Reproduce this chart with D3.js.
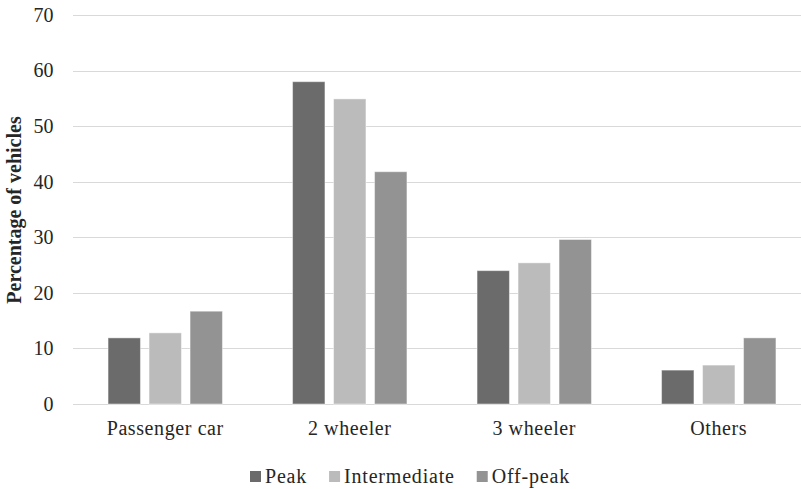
<!DOCTYPE html>
<html>
<head>
<meta charset="utf-8">
<script src="https://cdn.jsdelivr.net/npm/d3@7"></script>
<style>
  html, body { margin: 0; padding: 0; background: #fff; }
  svg { display: block; }
</style>
</head>
<body>
<svg id="chart" width="801" height="489" style="font-family: Liberation Serif"></svg>
<script>
const categories = ["Passenger car", "2 wheeler", "3 wheeler", "Others"];
const seriesNames = ["Peak", "Intermediate", "Off-peak"];
const peak = [11.9, 58.0, 24.0, 6.1];
const intermediate = [12.8, 54.9, 25.4, 7.0];
const offPeak = [16.7, 41.8, 29.6, 11.9];
const yTicks = [0, 10, 20, 30, 40, 50, 60, 70];
const colors = ["#6b6b6b", "#bbbbbb", "#939393"];

const FONT = "Liberation Serif";
const TEXT_COLOR = "#262626";

const seriesValues = [peak, intermediate, offPeak];
const data = categories.map((c, i) => ({
  category: c,
  values: seriesNames.map((s, j) => ({ series: s, value: seriesValues[j][i], color: colors[j] }))
}));

const svg = d3.select("#chart");
const plotLeft = 73, plotRight = 811, plotTop = 15, plotBottom = 404;

const y = d3.scaleLinear().domain([0, 70]).range([plotBottom, plotTop]);
const x0 = d3.scaleBand().domain(categories).range([plotLeft, plotRight]).paddingInner(0.38).paddingOuter(0.19);
const x1 = d3.scaleBand().domain(seriesNames).range([0, x0.bandwidth()]).paddingInner(0.21).paddingOuter(0);

// gridlines
svg.append("g")
  .selectAll("line").data(yTicks).join("line")
  .attr("x1", plotLeft).attr("x2", plotRight)
  .attr("y1", d => Math.round(y(d)) + 0.5).attr("y2", d => Math.round(y(d)) + 0.5)
  .attr("stroke", "#d9d9d9").attr("stroke-width", 1);

// y axis labels
const yAxis = d3.axisLeft(y).tickValues(yTicks).tickSize(0).tickPadding(0);
const gy = svg.append("g").attr("transform", `translate(53.5,0)`).call(yAxis);
gy.attr("font-family", FONT).attr("font-size", 20);
gy.select(".domain").remove();
gy.selectAll("text")
  .attr("font-family", FONT).style("font-family", FONT).style("font-size", "20px").style("fill", TEXT_COLOR);

// bars
const groups = svg.append("g").selectAll("g").data(data).join("g")
  .attr("transform", d => `translate(${x0(d.category)},0)`);
groups.selectAll("rect").data(d => d.values).join("rect")
  .attr("x", d => x1(d.series))
  .attr("width", x1.bandwidth())
  .attr("y", d => y(d.value))
  .attr("height", d => y(0) - y(d.value))
  .attr("fill", d => d.color)
  .attr("stroke", "rgba(255,255,255,0.45)")
  .attr("stroke-width", 1);

// x axis labels
const xAxis = d3.axisBottom(x0).tickSize(0).tickPadding(0);
const gx = svg.append("g").attr("transform", `translate(0,435)`).call(xAxis);
gx.attr("font-family", FONT).attr("font-size", 20);
gx.select(".domain").remove();
gx.selectAll("text")
  .attr("y", 0).attr("dy", 0)
  .attr("font-family", FONT).style("font-family", FONT).style("font-size", "20px").style("letter-spacing", "0.6px")
  .style("fill", TEXT_COLOR);

// y title
svg.append("text")
  .attr("transform", "translate(21,210) rotate(-90)")
  .attr("text-anchor", "middle")
  .attr("font-family", FONT).style("font-family", FONT).style("font-size", "20px").style("font-weight", "bold")
  .style("fill", TEXT_COLOR)
  .text("Percentage of vehicles");

// legend
const legend = svg.append("g").attr("transform", "translate(250,0)");
let lx = 0;
seriesNames.forEach((s, i) => {
  const g = legend.append("g").attr("transform", `translate(${lx},0)`);
  g.append("rect").attr("x", 0).attr("y", 471).attr("width", 11).attr("height", 11).attr("fill", colors[i]);
  const t = g.append("text").attr("x", 15).attr("y", 483)
    .attr("font-family", FONT).style("font-family", FONT).style("font-size", "20px").style("letter-spacing", "0.8px")
    .style("fill", TEXT_COLOR).text(s);
  const w = t.node().getComputedTextLength();
  lx += 15 + w + 22;
});
</script>
</body>
</html>
